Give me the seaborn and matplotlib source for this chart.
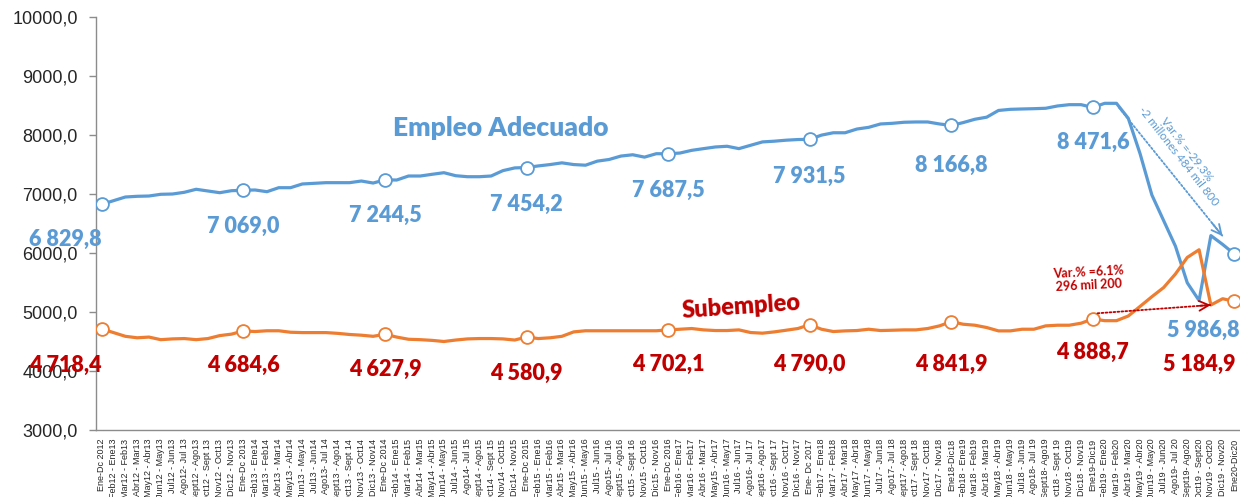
import numpy as np
import pandas as pd
import matplotlib
matplotlib.use("Agg")
import matplotlib.pyplot as plt
from matplotlib import font_manager
import seaborn as sns

# Periodos (año móvil)
periodos = [
    "Ene-Dc 2012",
    "Feb12 - Ene13", "Mar12 - Feb13", "Abr12 - Mar13", "May12 - Abr13", "Jun12 - May13", "Jul12 - Jun13",
    "Ago12- Jul 13", "Sept12 - Ago13", "Oct12 - Sept 13", "Nov12 - Oct13", "Dic12 - Nov13", "Ene-Dc 2013",
    "Feb13 - Ene14", "Mar13 - Feb14", "Abr13 - Mar14", "May13 - Abr14", "Jun13 - May14", "Jul13 - Jun14",
    "Ago13- Jul 14", "Sept13 - Ago14", "Oct13 - Sept 14", "Nov13 - Oct14", "Dic13 - Nov14", "Ene-Dc 2014",
    "Feb14 - Ene15", "Mar14 - Feb15", "Abr14 - Mar15", "May14 - Abr15", "Jun14 - May15", "Jul14 - Jun15",
    "Ago14- Jul 15", "Sept14 - Ago15", "Oct14 - Sept 15", "Nov14 - Oct15", "Dic14 - Nov15", "Ene-Dc 2015",
    "Feb15 - Ene16", "Mar15 - Feb16", "Abr15 - Mar16", "May15 - Abr16", "Jun15 - May16", "Jul15 - Jun16",
    "Ago15- Jul 16", "Sept15 - Ago16", "Oct15 - Sept 16", "Nov15 - Oct16", "Dic15 - Nov16", "Ene-Dc 2016",
    "Feb16 - Ene17", "Mar16 - Feb17", "Abr16 - Mar17", "May15 - Abr17", "Jun16 - May17", "Jul16 - Jun17",
    "Ago16- Jul 17", "Sept16 - Ago17", "Oct16 - Sept 17", "Nov16 - Oct17", "Dic16 - Nov17", "Ene- Dc 2017",
    "Feb17 - Ene18", "Mar17 - Feb18", "Abr17 - Mar18", "May17 - Abr18", "Jun17 - May18", "Jul17 - Jun18",
    "Ago17- Jul 18", "Sept17 - Ago18", "Oct17 - Sept 18", "Nov17 - Oct18", "Dic17 - Nov18", "Ene18-Dic18",
    "Feb18 - Ene19", "Mar18 - Feb19", "Abr18 - Mar19", "May18 - Abr19", "Jun18 - May19", "Jul18 - Jun19",
    "Ago18- Jul 19", "Sept18- Ago19", "Oct18 - Sept 19", "Nov18 - Oct19", "Dic18 - Nov19", "Ene19-Dic19",
    "Feb19 - Ene20", "Mar19 - Feb20", "Abr19 - Mar20", "May19 - Abr20", "Jun19 - May20", "Jul19 - Jun20",
    "Ago19- Jul 20", "Sept19- Ago20", "Oct19 - Sept20", "Nov19 - Oct20", "Dic19 - Nov20", "Ene20-Dic20",
]

# Empleo adecuado (miles de personas)
adecuado = [
    6829.8,
    6892, 6954, 6966, 6971, 7000, 7005, 7034, 7085, 7056, 7027, 7061, 7069.0,
    7073, 7044, 7112, 7112, 7175, 7186, 7197, 7197, 7197, 7225, 7191, 7244.5,
    7242, 7310, 7310, 7339, 7366, 7315, 7298, 7298, 7310, 7401, 7447, 7454.2,
    7481, 7504, 7533, 7504, 7493, 7562, 7590, 7648, 7670, 7630, 7688, 7687.5,
    7699, 7745, 7774, 7802, 7814, 7774, 7831, 7888, 7900, 7917, 7928, 7931.5,
    8003, 8043, 8043, 8106, 8135, 8192, 8203, 8221, 8226, 8226, 8192, 8166.8,
    8215, 8272, 8307, 8421, 8440, 8446, 8451, 8458, 8497, 8519, 8519, 8471.6,
    8542, 8542, 8288, 7688, 6988, 6553, 6119, 5500, 5200, 6300, 6150, 5986.8,
]

# Subempleo (miles de personas)
subempleo = [
    4718.4,
    4656, 4593, 4568, 4580, 4536, 4549, 4555, 4536, 4555, 4605, 4630, 4684.6,
    4674, 4687, 4687, 4662, 4656, 4656, 4656, 4643, 4624, 4612, 4593, 4627.9,
    4580, 4543, 4536, 4524, 4505, 4530, 4549, 4555, 4555, 4549, 4530, 4580.9,
    4555, 4568, 4593, 4668, 4687, 4687, 4687, 4687, 4687, 4687, 4687, 4702.1,
    4713, 4725, 4702, 4691, 4691, 4702, 4657, 4646, 4668, 4696, 4725, 4790.0,
    4713, 4674, 4685, 4691, 4713, 4691, 4696, 4702, 4702, 4725, 4770, 4841.9,
    4798, 4781, 4742, 4685, 4685, 4713, 4713, 4770, 4781, 4781, 4815, 4888.7,
    4858, 4858, 4937, 5100, 5264, 5420, 5650, 5930, 6060, 5124, 5230, 5184.9,
]

nota_adecuado = "Var.% =-29.3%\n-2 millones 484 mil 800"
nota_subempleo = "Var.% =6.1%\n296 mil 200"

# colores
azul = "#5B9BD5"
naranja = "#ED7D31"
rojo = "#C00000"
gris = "#8C8C8C"

# desplazamiento (pixeles) de las etiquetas de cada año
off_adec = [(-36, -35), (0, -36), (0, -36), (0, -37), (0, -37), (0, -37), (0, -40), (0, -35), (-31, -76)]
off_sub = [(-36, -36), (0, -34), (0, -35), (0, -36), (0, -35), (0, -40), (0, -43), (0, -34), (-35, -63)]


def fmt_num(v):
    s = f"{v:,.1f}"
    return s.replace(",", " ").replace(".", ",")


df = pd.DataFrame({"periodo": periodos, "Empleo Adecuado": adecuado, "Subempleo": subempleo})
df["pos"] = np.arange(len(df))
anual = df[df["periodo"].str.startswith("Ene")]

sns.set_style("white")
plt.rcParams["font.family"] = ["Lato", "DejaVu Sans"]

# fuente estrecha para los periodos si existe
nombres = {f.name for f in font_manager.fontManager.ttflist}
if "Liberation Sans Narrow" in nombres:
    fuente_x, talla_x = "Liberation Sans Narrow", 7.0
else:
    fuente_x, talla_x = "Liberation Sans", 6.5

fig = plt.figure(figsize=(12.4, 4.97), dpi=100)
ax = fig.add_axes([0.0773, 0.1342, 0.923, 0.831])

sns.lineplot(data=df, x="pos", y="Empleo Adecuado", ax=ax, color=azul, linewidth=2.3, zorder=3)
sns.lineplot(data=df, x="pos", y="Subempleo", ax=ax, color=naranja, linewidth=2.3, zorder=3)
sns.scatterplot(data=anual, x="pos", y="Empleo Adecuado", ax=ax, s=85, color="white",
                edgecolor=azul, linewidth=1.3, zorder=5)
sns.scatterplot(data=anual, x="pos", y="Subempleo", ax=ax, s=85, color="white",
                edgecolor=naranja, linewidth=1.3, zorder=5)

# etiquetas de valores anuales
for k, (_, row) in enumerate(anual.iterrows()):
    ax.annotate(fmt_num(row["Empleo Adecuado"]), (row["pos"], row["Empleo Adecuado"]),
                xytext=off_adec[k], textcoords="offset pixels", ha="center", va="center",
                fontsize=15.5, fontweight="heavy", color=azul, zorder=6)
    ax.annotate(fmt_num(row["Subempleo"]), (row["pos"], row["Subempleo"]),
                xytext=off_sub[k], textcoords="offset pixels", ha="center", va="center",
                fontsize=15.5, fontweight="heavy", color=rojo, zorder=6)

# nombres de las series
ax.text(33.8, 8124, "Empleo Adecuado", fontsize=19, fontweight="heavy", color=azul,
        ha="center", va="center")
ax.text(54.2, 5090, "Subempleo", fontsize=17, fontweight="heavy", color=rojo,
        ha="center", va="center", rotation=4)


# flechas de variacion
def flecha(ax, ini, fin, color):
    ax.annotate("", xy=fin, xytext=ini,
                arrowprops=dict(arrowstyle="-", linestyle=(0, (1, 1.2)), color=color, lw=1.3,
                                shrinkA=0, shrinkB=0), zorder=6)
    cerca = (fin[0] + 0.1 * (ini[0] - fin[0]), fin[1] + 0.1 * (ini[1] - fin[1]))
    ax.annotate("", xy=fin, xytext=cerca,
                arrowprops=dict(arrowstyle="->,head_length=0.7,head_width=0.35", color=color, lw=1.3,
                                shrinkA=0, shrinkB=0), zorder=6)


n = len(periodos) - 1
flecha(ax, (86.2, adecuado[84]), (n - 1, adecuado[n - 1] + 140), azul)
flecha(ax, (84.4, subempleo[84] + 95), (n - 2, subempleo[n - 2]), rojo)

ax.text(91.6, 7700, nota_adecuado, fontsize=8.5, color=azul, ha="center", va="center",
        rotation=-52, rotation_mode="anchor", multialignment="center", linespacing=1.0)
ax.text(83.6, 5565, nota_subempleo, fontsize=9, fontweight="bold", color=rojo, ha="center",
        va="center", rotation=3, rotation_mode="anchor", multialignment="center", linespacing=1.1)

# ejes
ax.set_xlim(-0.5, n + 0.5)
ax.set_ylim(3000, 10000)
ax.set_yticks(np.arange(3000, 10001, 1000))
ax.set_yticklabels([f"{v:.1f}".replace(".", ",") for v in np.arange(3000, 10001, 1000)],
                   fontsize=13, family="Liberation Sans")
ax.set_xticks(df["pos"])
ax.set_xticklabels(periodos, rotation=90, fontsize=talla_x, family=fuente_x)
ax.set_xticks(np.arange(-0.5, n + 1, 1), minor=True)
ax.tick_params(axis="x", which="major", length=0, pad=6)
ax.tick_params(axis="x", which="minor", length=5, color=gris, width=1, direction="out")
ax.tick_params(axis="y", length=5, color=gris, width=1, direction="out", left=True, pad=8)
ax.set_xlabel("")
ax.set_ylabel("")

for side in ["top", "right"]:
    ax.spines[side].set_visible(False)
for side in ["left", "bottom"]:
    ax.spines[side].set_color(gris)
    ax.spines[side].set_linewidth(1)

fig.savefig("out.png", dpi=100)
